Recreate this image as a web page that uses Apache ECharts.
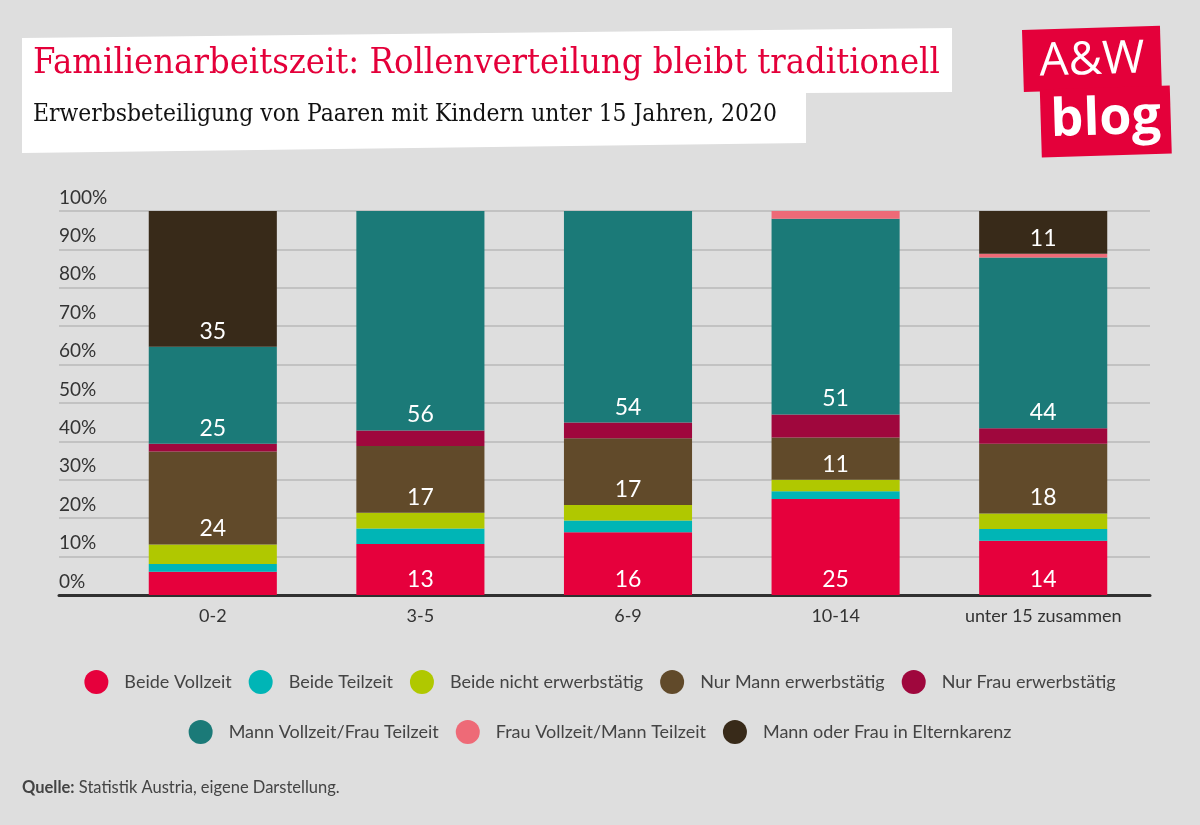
<!DOCTYPE html>
<html>
<head>
<meta charset="utf-8">
<script src="https://cdn.jsdelivr.net/npm/echarts@6/dist/echarts.min.js"></script>
<style>
html,body{margin:0;padding:0;background:#dedede;}
#chart{width:1200px;height:825px;}
</style>
</head>
<body>
<div id="chart"></div>
<script>
// ---- data (raw values, each bar is drawn as a 100% stack) ----
const categories = ['0-2', '3-5', '6-9', '10-14', 'unter 15 zusammen'];
const beideVollzeit = [6, 13, 16, 25, 14];
const beideTeilzeit = [2, 4, 3, 2, 3];
const beideNicht = [5, 4, 4, 3, 4];
const nurMann = [24, 17, 17, 11, 18];
const nurFrau = [2, 4, 4, 6, 4];
const mannVZFrauTZ = [25, 56, 54, 51, 44];
const frauVZMannTZ = [0, 0, 0, 2, 1];
const elternkarenz = [35, 0, 0, 0, 11];
const seriesNames = ['Beide Vollzeit', 'Beide Teilzeit', 'Beide nicht erwerbstätig', 'Nur Mann erwerbstätig',
  'Nur Frau erwerbstätig', 'Mann Vollzeit/Frau Teilzeit', 'Frau Vollzeit/Mann Teilzeit', 'Mann oder Frau in Elternkarenz'];
const yTicks = [0, 10, 20, 30, 40, 50, 60, 70, 80, 90, 100];

const seriesData = [beideVollzeit, beideTeilzeit, beideNicht, nurMann, nurFrau, mannVZFrauTZ, frauVZMannTZ, elternkarenz];
const colors = ['#e6003c', '#00b5b6', '#b0c800', '#614a2a', '#9f073d', '#1b7a78', '#ee6a77', '#382a19'];

const totals = categories.map((c, i) => seriesData.reduce((s, arr) => s + arr[i], 0));

const FONT = 'Lato';

const chart = echarts.init(document.getElementById('chart'), null, {renderer: 'canvas'});

const series = seriesNames.map((name, k) => ({
  name: name,
  type: 'bar',
  stack: 'total',
  xAxisIndex: 1,
  yAxisIndex: 1,
  barCategoryGap: '38.3%',
  itemStyle: {color: colors[k]},
  emphasis: {disabled: true},
  label: {
    show: true,
    position: 'insideBottom',
    distance: 4,
    color: '#ffffff',
    fontFamily: FONT,
    fontSize: 23,
    formatter: p => (seriesData[k][p.dataIndex] >= 10 ? String(seriesData[k][p.dataIndex]) : '')
  },
  data: seriesData[k].map((v, i) => v / totals[i] * 100)
}));

const option = {
  backgroundColor: '#dedede',
  animation: false,
  color: colors,
  grid: [
    {left: 59, right: 50, top: 211, bottom: 230},
    {left: 109, right: 53, top: 211, bottom: 230}
  ],
  xAxis: [
    {gridIndex: 0, type: 'value', min: 0, max: 1,
      axisLine: {show: true, onZero: false, lineStyle: {color: '#303030', width: 3}},
      axisTick: {show: false}, axisLabel: {show: false}, splitLine: {show: false}},
    {gridIndex: 1, type: 'category', data: categories,
      axisLine: {show: false}, axisTick: {show: false},
      axisLabel: {color: '#333', fontFamily: FONT, fontSize: 18, margin: 12}}
  ],
  yAxis: [
    {gridIndex: 0, type: 'value', min: yTicks[0], max: yTicks[yTicks.length - 1], interval: 10,
      axisLine: {show: false}, axisTick: {show: false},
      splitLine: {show: true, lineStyle: {color: '#c2c2c2', width: 2}},
      axisLabel: {inside: true, margin: 0, align: 'left', verticalAlign: 'bottom', padding: [0, 0, 4, 0],
        color: '#333', fontFamily: FONT, fontSize: 19, formatter: '{value}%'}},
    {gridIndex: 1, type: 'value', min: 0, max: 100, show: false}
  ],
  legend: [
    {data: seriesNames.slice(0, 5), top: 665, left: 'center', icon: 'circle', itemWidth: 24, itemHeight: 24,
      itemGap: 17, selectedMode: false,
      textStyle: {color: '#444', fontFamily: FONT, fontSize: 18, padding: [0, 0, 0, 11]}},
    {data: seriesNames.slice(5), top: 715, left: 'center', icon: 'circle', itemWidth: 24, itemHeight: 24,
      itemGap: 17, selectedMode: false,
      textStyle: {color: '#444', fontFamily: FONT, fontSize: 18, padding: [0, 0, 0, 11]}}
  ],
  graphic: [
    {type: 'polygon', z: 1, shape: {points: [[22, 38], [952, 28], [952, 92], [806, 93], [806, 143], [22, 153]]},
      style: {fill: '#ffffff'}},
    {type: 'text', z: 2, left: 33, top: 46,
      style: {text: 'Familienarbeitszeit: Rollenverteilung bleibt traditionell', fill: '#e4003a',
        font: '36px "DejaVu Serif Condensed", "DejaVu Serif", serif'}},
    {type: 'text', z: 2, left: 33, top: 103,
      style: {text: 'Erwerbsbeteiligung von Paaren mit Kindern unter 15 Jahren, 2020', fill: '#111',
        font: '24.4px "DejaVu Serif Condensed", "DejaVu Serif", serif'}},
    {type: 'group', z: 2, x: 1022, y: 30, rotation: 0.03,
      children: [
        {type: 'rect', shape: {x: 0, y: 0, width: 138, height: 62}, style: {fill: '#e4003a'}},
        {type: 'rect', shape: {x: 16, y: 60, width: 130, height: 68}, style: {fill: '#e4003a'}},
        {type: 'text', style: {text: 'A&W', x: 69, y: 33, align: 'center', verticalAlign: 'middle', fill: '#fff',
          font: '46px "Open Sans", sans-serif'}},
        {type: 'text', style: {text: 'blog', x: 81, y: 92, align: 'center', verticalAlign: 'middle', fill: '#fff',
          font: 'bold 52px "Open Sans", sans-serif'}}
      ]},
    {type: 'text', z: 2, left: 22, top: 779,
      style: {text: '{b|Quelle:} Statistik Austria, eigene Darstellung.', fill: '#444',
        font: '16.5px Lato, sans-serif',
        rich: {b: {fontWeight: 'bold', fontFamily: FONT, fontSize: 16.5, fill: '#444'}}}}
  ],
  series: series
};
chart.setOption(option);
</script>
</body>
</html>
